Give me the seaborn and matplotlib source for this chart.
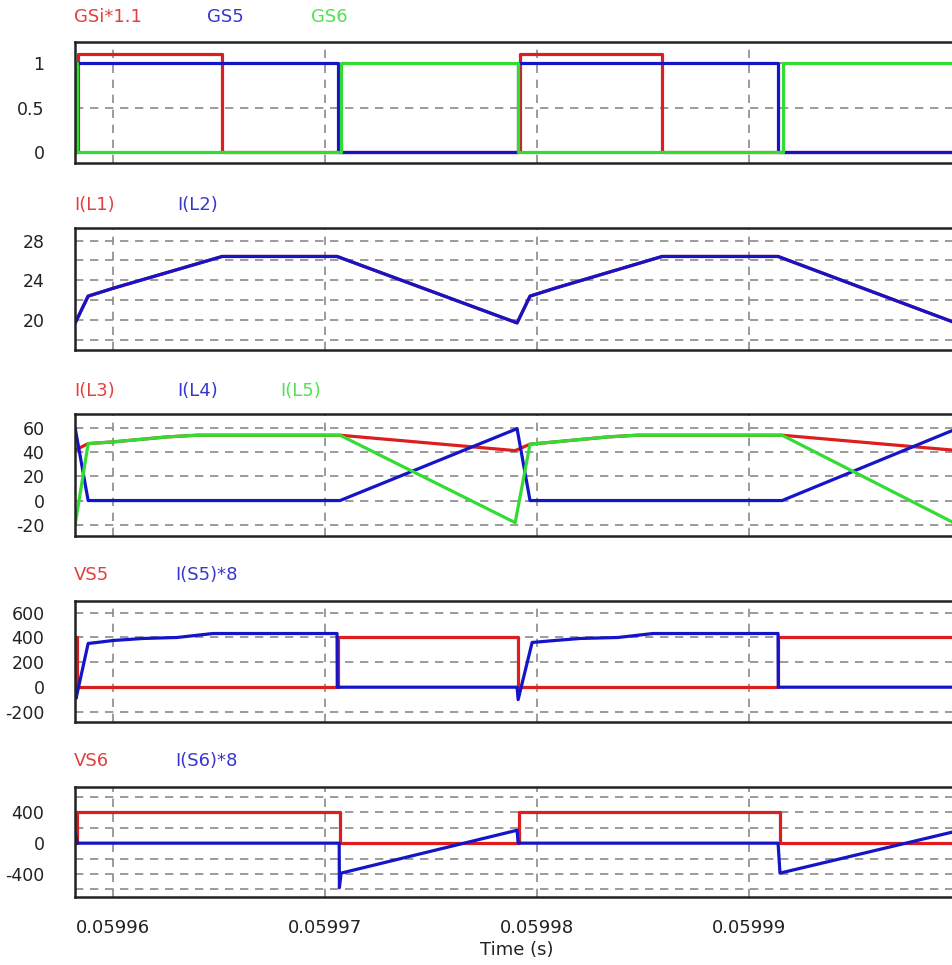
import matplotlib.pyplot as plt
import pandas as pd
import seaborn as sns

RED = "#dc1e1e"
BLUE = "#1414c8"
GREEN = "#32dc32"

# ---- panel 1: gate signals (switching instants, held with steps-post)
gsi_t = [0.0599582, 0.05995833, 0.05996513, 0.05997918, 0.05998588, 0.06]
gsi_v = [0, 1.1, 0, 1.1, 0, 0]
gs5_t = [0.0599582, 0.05995829, 0.0599706, 0.05997909, 0.05999135, 0.06]
gs5_v = [0, 1, 0, 1, 0, 0]
gs6_t = [0.0599582, 0.05995829, 0.05997074, 0.05997909, 0.05999158, 0.06]
gs6_v = [1, 0, 1, 0, 1, 1]

# ---- panel 2: I(L1), I(L2)
il_t = [0.0599582, 0.05995881, 0.05996, 0.05996513, 0.05997055, 0.05997904,
        0.05997965, 0.05998083, 0.05998588, 0.05999135, 0.0599996]
il1_v = [19.7, 22.4, 23.2, 26.4, 26.4, 19.7, 22.4, 23.2, 26.4, 26.4, 19.8]
il2_v = [19.7, 22.4, 23.2, 26.4, 26.4, 19.7, 22.4, 23.2, 26.4, 26.4, 19.8]

# ---- panel 3: I(L3), I(L4), I(L5)
il4_t = [0.0599582, 0.05995881, 0.05997069, 0.05997904, 0.05997965, 0.05999154, 0.0599996]
il4_v = [59.6, 0, 0, 59.3, 0, 0, 58]
il35_t = [0.0599582, 0.05995881, 0.05996, 0.05996253, 0.05996395, 0.05997069, 0.05997895,
          0.05997965, 0.05998083, 0.05998333, 0.0599847, 0.05999154, 0.0599996]
il3_v = [41.6, 47, 48.4, 52.5, 53.9, 53.9, 41.2, 46.5, 48.4, 52.5, 53.9, 53.9, 41.6]
il5_v = [-19.6, 47, 48.4, 52.5, 53.9, 53.9, -18.2, 46.5, 48.4, 52.5, 53.9, 53.9, -18]

# ---- panel 4: VS5, I(S5)*8
vs5_t = [0.0599582, 0.05995829, 0.0599706, 0.05997909, 0.05999135, 0.06]
vs5_v = [400, 0, 400, 0, 400, 400]
is5_t = [0.0599582, 0.05995824, 0.05995881, 0.05995923, 0.05996, 0.0599614, 0.059963,
         0.0599647, 0.05997055, 0.05997056, 0.05997904, 0.05997909, 0.05997975, 0.05998083,
         0.05998201, 0.0599838, 0.05998545, 0.05999135, 0.05999136, 0.06]
is5_v = [-10, -90, 352, 360, 376, 392, 400, 432, 432, 0, 0, -100, 360, 376,
         392, 400, 432, 432, 0, 0]

# ---- panel 5: VS6, I(S6)*8
vs6_t = [0.0599582, 0.05995829, 0.05997069, 0.05997914, 0.05999144, 0.06]
vs6_v = [0, 400, 0, 400, 0, 0]
is6_t = [0.0599582, 0.05995829, 0.05997065, 0.05997066, 0.05997074, 0.05997904,
         0.05997909, 0.05999135, 0.05999144, 0.0599996]
is6_v = [142, 0, 0, -580, -390, 168, 0, 0, -390, 146]

x_ticks = [0.05996, 0.05997, 0.05998, 0.05999]
x_labels = ["0.05996", "0.05997", "0.05998", "0.05999"]

sns.set_style("white")
plt.rcParams["font.family"] = ["DejaVu Sans"]
plt.rcParams["axes.unicode_minus"] = False

W, H = 953, 965
fig = plt.figure(figsize=(W / 100, H / 100), dpi=100)

# pixel box of each panel, y range, ticks and the trace names above it
panels = [
    dict(top=41.7, bottom=163.3, ylim=(-0.124, 1.236), major=[0, 0.5, 1], minor=[],
         fmt=["0", "0.5", "1"],
         traces=[(gsi_t, gsi_v, RED, True), (gs5_t, gs5_v, BLUE, True), (gs6_t, gs6_v, GREEN, True)],
         names=[("GSi*1.1", 74, RED), ("GS5", 207, BLUE), ("GS6", 311, GREEN)], label_y=16.5),
    dict(top=227.7, bottom=350, ylim=(16.97, 29.3), major=[20, 24, 28], minor=[18, 22, 26],
         fmt=["20", "24", "28"],
         traces=[(il_t, il1_v, RED, False), (il_t, il2_v, BLUE, False)],
         names=[("I(L1)", 74, RED), ("I(L2)", 177, BLUE)], label_y=205),
    dict(top=414, bottom=535.7, ylim=(-29, 71.4), major=[-20, 0, 20, 40, 60], minor=[],
         fmt=["-20", "0", "20", "40", "60"],
         traces=[(il35_t, il3_v, RED, False), (il4_t, il4_v, BLUE, False), (il35_t, il5_v, GREEN, False)],
         names=[("I(L3)", 74, RED), ("I(L4)", 177, BLUE), ("I(L5)", 280, GREEN)], label_y=390.5),
    dict(top=600.7, bottom=722, ylim=(-280, 696), major=[-200, 0, 200, 400, 600], minor=[],
         fmt=["-200", "0", "200", "400", "600"],
         traces=[(vs5_t, vs5_v, RED, True), (is5_t, is5_v, BLUE, False)],
         names=[("VS5", 74, RED), ("I(S5)*8", 175, BLUE)], label_y=575),
    dict(top=786.7, bottom=896.7, ylim=(-697, 735), major=[-400, 0, 400], minor=[-600, -200, 200, 600],
         fmt=["-400", "0", "400"],
         traces=[(vs6_t, vs6_v, RED, True), (is6_t, is6_v, BLUE, False)],
         names=[("VS6", 74, RED), ("I(S6)*8", 175, BLUE)], label_y=760.5),
]

x_left, x_right = 75, W
for i, p in enumerate(panels):
    ax = fig.add_axes([x_left / W, 1 - p["bottom"] / H, (x_right - x_left) / W,
                       (p["bottom"] - p["top"]) / H])
    for t, v, color, step in p["traces"]:
        df = pd.DataFrame({"t": t, "v": v})
        sns.lineplot(data=df, x="t", y="v", ax=ax, color=color, lw=2.3,
                     estimator=None, sort=False, legend=False,
                     drawstyle="steps-post" if step else "default")
    ax.set_xlim(0.05995819, 0.0599996)
    ax.set_ylim(*p["ylim"])
    ax.set_xticks(x_ticks)
    ax.set_yticks(p["major"])
    ax.set_yticklabels(p["fmt"])
    ax.set_yticks(p["minor"], minor=True)
    ax.set_xlabel("")
    ax.set_ylabel("")
    if i == len(panels) - 1:
        ax.set_xticklabels(x_labels)
    else:
        ax.set_xticklabels([])
    ax.tick_params(axis="both", which="both", length=0, labelsize=12.5, colors="#222222")
    ax.tick_params(axis="y", pad=22)
    ax.tick_params(axis="x", pad=16, labelsize=13)
    ax.grid(True, which="both", color="#8a8a8a", linestyle=(0, (5, 4)), linewidth=1.2)
    ax.set_axisbelow(True)
    for side in ["left", "top", "bottom"]:
        ax.spines[side].set_color("#222222")
        ax.spines[side].set_linewidth(1.8)
    ax.spines["right"].set_visible(False)

    for name, px, color in p["names"]:
        fig.text(px / W, 1 - p["label_y"] / H, name, color=color, fontsize=13,
                 ha="left", va="center", alpha=0.85)

fig.text(517 / W, 1 - 950 / H, "Time (s)", fontsize=13, ha="center", va="center", color="#222222")

fig.savefig("out.png", dpi=100)
